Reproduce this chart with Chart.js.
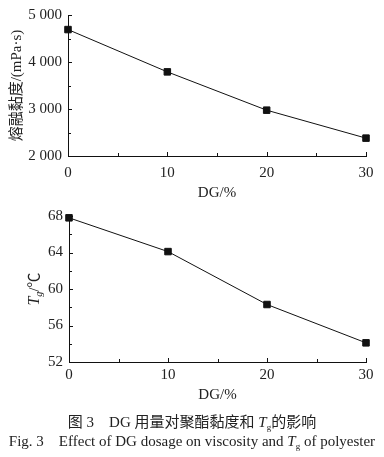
<!DOCTYPE html>
<html>
<head>
<meta charset="utf-8">
<script src="https://cdn.jsdelivr.net/npm/chart.js@4.4.1/dist/chart.umd.min.js"></script>
<style>
  html, body { margin: 0; padding: 0; background: #fff; }
  body { width: 384px; height: 457px; position: relative; overflow: hidden; }
  .box { position: absolute; left: 0; width: 384px; }
  #box1 { top: 0; height: 204px; }
  #box2 { top: 200px; height: 208px; }
  .cap { position: absolute; left: 0; width: 384px; text-align: center; color: #222; white-space: nowrap; }
  #cap1 { top: 410px; font: 15px "Liberation Serif", "Noto Sans CJK SC"; }
  #cap2 { top: 433px; font: 15px "Liberation Serif"; }
  sub { font-size: 9px; vertical-align: -3px; }
</style>
</head>
<body>
<div class="box" id="box1"><canvas id="visc-chart"></canvas></div>
<div class="box" id="box2"><canvas id="tg-chart"></canvas></div>
<div class="cap" id="cap1">图 3&emsp;DG 用量对聚酯黏度和 <i>T</i><sub>g</sub>的影响</div>
<div class="cap" id="cap2">Fig. 3&emsp;Effect of DG dosage on viscosity and <i>T</i><sub>g</sub> of polyester</div>
<script>
"use strict";

// data
var dgDosage = [0, 10, 20, 30];
var viscosity = [4690, 3790, 2975, 2380];
var tgValues = [67.8, 64.1, 58.3, 54.1];

var xMinor = [5, 15, 25];
var viscMinor = [2500, 3500, 4500];
var tgMinor = [54, 58, 62, 66];

var serif = '"Liberation Serif", "Noto Sans CJK SC"';
var ink = "#222";

// tick marks pointing into the plot, major + minor
const innerTicks = {
  id: "innerTicks",
  afterDatasetsDraw(chart, args, opts) {
    const { ctx, chartArea } = chart;
    const x = chart.scales.x, y = chart.scales.y;
    ctx.save();
    ctx.strokeStyle = "#111";
    ctx.lineWidth = 1;
    ctx.beginPath();
    const xt = x.ticks.map((t) => [t.value, 4]).concat(opts.xMinor.map((v) => [v, 3]));
    xt.forEach(([v, len]) => {
      const px = Math.round(x.getPixelForValue(v)) + 0.5;
      ctx.moveTo(px, chartArea.bottom);
      ctx.lineTo(px, chartArea.bottom - len);
    });
    const yt = y.ticks.map((t) => [t.value, 4]).concat(opts.yMinor.map((v) => [v, 3]));
    yt.forEach(([v, len]) => {
      const py = Math.round(y.getPixelForValue(v)) + 0.5;
      ctx.moveTo(chartArea.left, py);
      ctx.lineTo(chartArea.left + len, py);
    });
    ctx.stroke();
    ctx.restore();
  },
};

// rotated "Tg/℃" title with italic T and subscript g
const tgTitle = {
  id: "tgTitle",
  afterDraw(chart) {
    const { ctx, chartArea } = chart;
    const cx = chart.scales.y.left + 35;
    const cy = (chartArea.top + chartArea.bottom) / 2;
    const parts = [
      { t: "T", f: "italic 16px " + serif, dy: 0 },
      { t: "g", f: "italic 10px " + serif, dy: 4 },
      { t: "/℃", f: "15px " + serif, dy: 0 },
    ];
    ctx.save();
    ctx.translate(cx, cy);
    ctx.rotate(-Math.PI / 2);
    ctx.fillStyle = ink;
    ctx.textBaseline = "middle";
    ctx.textAlign = "left";
    let total = 0;
    parts.forEach((p) => {
      ctx.font = p.f;
      p.w = ctx.measureText(p.t).width;
      total += p.w;
    });
    let px = -total / 2;
    parts.forEach((p) => {
      ctx.font = p.f;
      ctx.fillText(p.t, px, p.dy);
      px += p.w;
    });
    ctx.restore();
  },
};

function groupThousands(v) {
  return String(v).replace(/\B(?=(\d{3})+(?!\d))/g, " ");
}

function makeChart(id, values, yMin, yMax, yStep, yMinor, yTitle, sizes) {
  var ctx = document.getElementById(id);
  return new Chart(ctx, {
    type: "line",
    data: {
      datasets: [
        {
          data: dgDosage.map((d, i) => ({ x: d, y: values[i] })),
          borderColor: "#111",
          borderWidth: 1,
          backgroundColor: "#111",
          pointStyle: "rect",
          pointRadius: 4.6,
          pointHoverRadius: 4.6,
          tension: 0,
          clip: false,
        },
      ],
    },
    options: {
      responsive: true,
      maintainAspectRatio: false,
      animation: false,
      events: [],
      layout: { padding: { top: sizes.top, right: 18, left: 0, bottom: 0 } },
      plugins: {
        legend: { display: false },
        tooltip: { enabled: false },
        innerTicks: { xMinor: xMinor, yMinor: yMinor },
      },
      scales: {
        x: {
          type: "linear",
          min: 0,
          max: 30,
          ticks: { stepSize: 10, padding: sizes.tickPad, color: ink, font: { family: serif, size: 15 } },
          grid: { drawOnChartArea: false, drawTicks: false },
          border: { color: "#111", width: 1 },
          title: {
            display: true,
            text: "DG/%",
            color: ink,
            font: { family: serif, size: 15 },
            padding: { top: 0, bottom: sizes.titlePad },
          },
          afterFit: (s) => { s.height = sizes.xHeight; },
        },
        y: {
          min: yMin,
          max: yMax,
          ticks: {
            stepSize: yStep,
            padding: 6,
            color: ink,
            font: { family: serif, size: 15 },
            callback: (v) => groupThousands(v),
          },
          grid: { drawOnChartArea: false, drawTicks: false },
          border: { color: "#111", width: 1 },
          title: {
            display: !!yTitle,
            text: yTitle,
            color: ink,
            font: { family: serif, size: 15 },
            padding: { top: 8, bottom: 0 },
          },
          afterFit: (s) => { s.width = sizes.yWidth; },
        },
      },
    },
    plugins: sizes.extra ? [innerTicks, sizes.extra] : [innerTicks],
  });
}

makeChart("visc-chart", viscosity, 2000, 5000, 1000, viscMinor, "熔融黏度/(mPa·s)",
  { top: 8, xHeight: 48, yWidth: 68, tickPad: 8, titlePad: 2 });

makeChart("tg-chart", tgValues, 52, 68, 4, tgMinor, "",
  { top: 16, xHeight: 46, yWidth: 69, tickPad: 4, titlePad: 4, extra: tgTitle });
</script>
</body>
</html>
